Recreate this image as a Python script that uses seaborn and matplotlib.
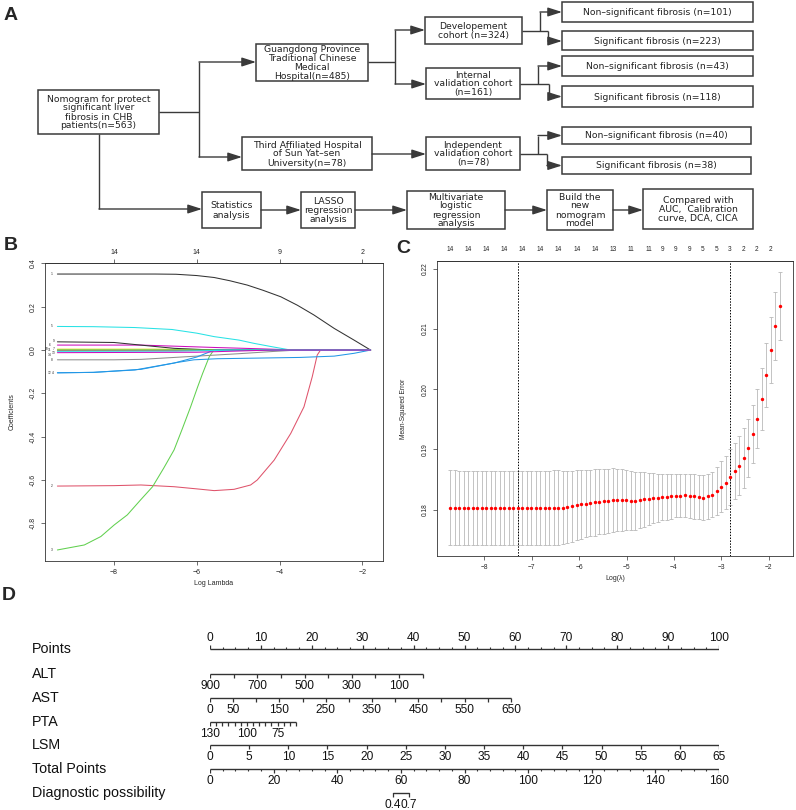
import numpy as np
import pandas as pd
import matplotlib
matplotlib.use("Agg")
import matplotlib.pyplot as plt
from matplotlib.patches import Rectangle
import seaborn as sns

# ====================== DATA ======================
# ---- Panel B : LASSO coefficient paths (knots) ----
b_var_ids = [1, 2, 3, 4, 5, 6, 7, 8, 9, 10, 11, 12, 13, 14]
b_colors = ["#333333", "#DF536B", "#61D04F", "#2297E6", "#28E2E5", "#CD0BBC", "#F5C710",
            "#8E8E8E", "#333333", "#DF536B", "#61D04F", "#2297E6", "#28E2E5", "#CD0BBC"]
b_path_x = {
    1: [-9.37, -8.0, -7.0, -6.5, -6.0, -5.58, -5.2, -4.78, -4.4, -3.97, -3.57, -3.17, -2.68, -2.2, -1.8],
    2: [-9.37, -8.0, -7.35, -6.55, -6.0, -5.58, -5.1, -4.70, -4.54, -4.13, -3.73, -3.41, -3.21, -3.09, -3.01, -1.8],
    3: [-9.37, -8.72, -8.32, -8.0, -7.68, -7.36, -7.07, -6.80, -6.55, -6.35, -6.15, -5.98, -5.86, -5.70, -5.62, -5.58, -1.8],
    4: [-9.37, -8.5, -7.5, -7.0, -6.5, -6.07, -5.5, -4.5, -3.5, -2.68, -2.2, -1.8],
    5: [-9.37, -8.5, -7.5, -6.6, -6.0, -5.58, -4.98, -4.62, -4.2, -3.73, -1.8],
    6: [-9.37, -7.35, -5.58, -4.5, -3.57, -1.8],
    7: [-9.37, -7.0, -5.5, -4.8, -1.8],
    8: [-9.37, -8.0, -7.35, -6.0, -5.0, -4.2, -3.57, -1.8],
    9: [-9.37, -8.0, -7.36, -6.55, -5.58, -1.8],
    10: [-9.37, -6.0, -4.5, -1.8],
    11: [-9.37, -6.0, -4.0, -2.6, -1.8],
    12: [-9.37, -8.5, -7.35, -6.55, -6.0, -5.58, -1.8],
    13: [-9.37, -6.5, -5.0, -1.8],
    14: [-9.37, -6.0, -4.2, -1.8],
}
b_path_y = {
    1: [0.351, 0.351, 0.351, 0.350, 0.344, 0.335, 0.320, 0.300, 0.276, 0.246, 0.207, 0.162, 0.100, 0.046, 0.0],
    2: [-0.628, -0.626, -0.623, -0.631, -0.641, -0.649, -0.643, -0.623, -0.600, -0.508, -0.385, -0.262, -0.123, -0.023, 0.0, 0.0],
    3: [-0.923, -0.900, -0.861, -0.808, -0.761, -0.692, -0.631, -0.545, -0.461, -0.363, -0.262, -0.170, -0.108, -0.031, -0.008, 0.0, 0.0],
    4: [-0.105, -0.103, -0.092, -0.075, -0.058, -0.045, -0.040, -0.037, -0.034, -0.028, -0.015, 0.0],
    5: [0.109, 0.108, 0.104, 0.095, 0.078, 0.062, 0.046, 0.031, 0.016, 0.0, 0.0],
    6: [0.023, 0.023, 0.012, 0.006, 0.0, 0.0],
    7: [0.004, 0.004, 0.002, 0.0, 0.0],
    8: [-0.045, -0.045, -0.043, -0.028, -0.017, -0.007, 0.0, 0.0],
    9: [0.038, 0.035, 0.023, 0.008, 0.0, 0.0],
    10: [-0.002, -0.002, 0.0, 0.0],
    11: [0.001, 0.001, 0.001, 0.0, 0.0],
    12: [-0.105, -0.103, -0.089, -0.060, -0.032, 0.0, 0.0],
    13: [-0.006, -0.005, 0.0, 0.0],
    14: [-0.012, -0.010, 0.0, 0.0],
}
b_x_ticks = [-8, -6, -4, -2]
b_y_ticks = [-0.8, -0.6, -0.4, -0.2, 0.0, 0.2, 0.4]
b_top_ticks = [-8, -6, -4, -2]
b_top_labels = ["14", "14", "9", "2"]

# ---- Panel C : cross-validation curve ----
cv_log_lambda = [-8.72, -8.62, -8.53, -8.43, -8.34, -8.24, -8.15, -8.05, -7.96, -7.86,
                 -7.77, -7.67, -7.58, -7.48, -7.39, -7.29, -7.20, -7.10, -7.01, -6.91,
                 -6.82, -6.72, -6.63, -6.53, -6.44, -6.34, -6.25, -6.15, -6.05, -5.96,
                 -5.86, -5.77, -5.67, -5.58, -5.48, -5.39, -5.29, -5.20, -5.10, -5.01,
                 -4.91, -4.82, -4.72, -4.63, -4.53, -4.44, -4.34, -4.25, -4.15, -4.06,
                 -3.96, -3.87, -3.77, -3.67, -3.58, -3.48, -3.39, -3.29, -3.20, -3.10,
                 -3.01, -2.91, -2.82, -2.72, -2.63, -2.53, -2.44, -2.34, -2.25, -2.15,
                 -2.06, -1.96, -1.87, -1.77]
cv_mse = [0.18031, 0.18031, 0.18030, 0.18030, 0.18030, 0.18030, 0.18029, 0.18029, 0.18029, 0.18029,
          0.18029, 0.18029, 0.18029, 0.18029, 0.18028, 0.18028, 0.18028, 0.18028, 0.18028, 0.18028,
          0.18029, 0.18029, 0.18030, 0.18031, 0.18032, 0.18035, 0.1805, 0.1806, 0.1808, 0.1809,
          0.1810, 0.1811, 0.1812, 0.1813, 0.1814, 0.1815, 0.18155, 0.1816, 0.1816, 0.18155,
          0.1815, 0.1815, 0.1816, 0.1817, 0.1818, 0.1819, 0.1820, 0.1821, 0.1821, 0.1822,
          0.1823, 0.1823, 0.1824, 0.1823, 0.1822, 0.1821, 0.1820, 0.1822, 0.1825, 0.1831,
          0.1838, 0.1845, 0.1854, 0.1864, 0.1873, 0.1886, 0.1903, 0.1925, 0.1951, 0.1984,
          0.2023, 0.2065, 0.2105, 0.2138]
cv_se = [0.0062, 0.0062, 0.0062, 0.0062, 0.0062, 0.0062, 0.0062, 0.0062, 0.0062, 0.0062,
         0.0062, 0.0062, 0.0062, 0.0062, 0.0062, 0.0062, 0.0062, 0.0062, 0.0062, 0.0062,
         0.0062, 0.0062, 0.0062, 0.0062, 0.0062, 0.0061, 0.0060, 0.0059, 0.0058, 0.0057,
         0.0056, 0.0055, 0.0055, 0.0054, 0.0054, 0.0053, 0.0053, 0.0052, 0.0051, 0.0050,
         0.0049, 0.0048, 0.0046, 0.0045, 0.0043, 0.0042, 0.0040, 0.0039, 0.0038, 0.0037,
         0.0036, 0.0036, 0.0036, 0.0037, 0.0037, 0.0037, 0.0037, 0.0037, 0.0038, 0.0040,
         0.0042, 0.0044, 0.0046, 0.0047, 0.0049, 0.0050, 0.0048, 0.0048, 0.0049, 0.0051,
         0.0053, 0.0055, 0.0056, 0.0056]
cv_top_idx = [0, 4, 8, 12, 16, 20, 24, 28, 32, 36, 40, 44, 47, 50, 53, 56, 59, 62, 65, 68, 71]
cv_top_nz = ["14", "14", "14", "14", "14", "14", "14", "14", "14", "13", "11", "11",
             "9", "9", "9", "5", "5", "3", "2", "2", "2"]
cv_lambda_min = -7.29
cv_lambda_1se = -2.82
c_x_ticks = [-8, -7, -6, -5, -4, -3, -2]
c_y_ticks = [0.18, 0.19, 0.20, 0.21, 0.22]

# ---- Panel D : nomogram scales ----
nomo_rows = ["Points", "ALT", "AST", "PTA", "LSM", "Total Points", "Diagnostic possibility"]
pts_major = [0, 10, 20, 30, 40, 50, 60, 70, 80, 90, 100]
pts_minor = [2.5, 5, 7.5, 12.5, 15, 17.5, 22.5, 25, 27.5, 32.5, 35, 37.5, 42.5, 45, 47.5,
             52.5, 55, 57.5, 62.5, 65, 67.5, 72.5, 75, 77.5, 82.5, 85, 87.5, 92.5, 95, 97.5]
alt_ends = [900, 0]
alt_pts = [0, 41.8]
alt_ticks = [900, 800, 700, 600, 500, 400, 300, 200, 100, 0]
alt_labels = [900, 700, 500, 300, 100]
ast_ends = [0, 650]
ast_pts = [0, 59.1]
ast_ticks = [0, 50, 100, 150, 200, 250, 300, 350, 400, 450, 500, 550, 600, 650]
ast_labels = [0, 50, 150, 250, 350, 450, 550, 650]
pta_ends = [130, 60]
pta_pts = [0, 16.9]
pta_ticks = [130, 125, 120, 115, 110, 105, 100, 95, 90, 85, 80, 75, 70, 65, 60]
pta_labels = [130, 100, 75]
lsm_ends = [0, 65]
lsm_pts = [0, 100]
lsm_ticks = [0, 5, 10, 15, 20, 25, 30, 35, 40, 45, 50, 55, 60, 65]
lsm_labels = [0, 5, 10, 15, 20, 25, 30, 35, 40, 45, 50, 55, 60, 65]
total_ends = [0, 160]
total_major = [0, 20, 40, 60, 80, 100, 120, 140, 160]
total_minor = [4, 8, 12, 16, 24, 28, 32, 36, 44, 48, 52, 56, 64, 68, 72, 76, 84, 88, 92, 96,
               104, 108, 112, 116, 124, 128, 132, 136, 144, 148, 152, 156]
diag_probs = [0.4, 0.7]
diag_total_points = [57.5, 62.6]

# ---- Panel A : flowchart texts ----
flow_texts = {
    "main": "Nomogram for protect\nsignificant liver\nfibrosis in CHB\npatients(n=563)",
    "gd": "Guangdong Province\nTraditional Chinese\nMedical\nHospital(n=485)",
    "third": "Third Affiliated Hospital\nof Sun Yat–sen\nUniversity(n=78)",
    "dev": "Developement\ncohort (n=324)",
    "internal": "Internal\nvalidation cohort\n(n=161)",
    "indep": "Independent\nvalidation cohort\n(n=78)",
    "ns101": "Non–significant fibrosis (n=101)",
    "s223": "Significant fibrosis (n=223)",
    "ns43": "Non–significant fibrosis (n=43)",
    "s118": "Significant fibrosis (n=118)",
    "ns40": "Non–significant fibrosis (n=40)",
    "s38": "Significant fibrosis (n=38)",
    "stats": "Statistics\nanalysis",
    "lasso": "LASSO\nregression\nanalysis",
    "multi": "Multivariate\nlogistic\nregression\nanalysis",
    "build": "Build the\nnew\nnomogram\nmodel",
    "comp": "Compared with\nAUC,  Calibration\ncurve, DCA, CICA",
}

# ====================== FIGURE ======================
W, H = 796, 810
sns.set_theme(style="white")
plt.rcParams["font.family"] = ["Liberation Sans", "DejaVu Sans"]
plt.rcParams["axes.unicode_minus"] = True
fig = plt.figure(figsize=(W / 100, H / 100), dpi=100)
fig.patch.set_facecolor("white")

# ---------- Panel A (layout axes in pixel units) ----------
ax_a = fig.add_axes([0, 0, 1, 1])
ax_a.set_xlim(0, W)
ax_a.set_ylim(H, 0)
ax_a.axis("off")
ax_a.patch.set_alpha(0)
EC = "#3a3a3a"
box_pos = {
    "main": (38, 90, 159, 134), "gd": (256, 44, 368, 81), "third": (242, 137, 372, 170),
    "dev": (425, 17, 522, 44), "internal": (426, 68, 520, 99), "indep": (426, 137, 520, 170),
    "ns101": (562, 2, 753, 22), "s223": (562, 31, 753, 50), "ns43": (562, 56, 753, 76),
    "s118": (562, 86, 753, 107), "ns40": (562, 127, 751, 144), "s38": (562, 157, 751, 174),
    "stats": (202, 192, 261, 228), "lasso": (301, 192, 355, 228), "multi": (407, 191, 505, 229),
    "build": (547, 190, 613, 230), "comp": (643, 189, 753, 229),
}
for k, (x0, y0, x1, y1) in box_pos.items():
    ax_a.add_patch(Rectangle((x0, y0), x1 - x0, y1 - y0, fill=False, ec=EC, lw=1.1))
    ax_a.text((x0 + x1) / 2, (y0 + y1) / 2 + 0.5, flow_texts[k], ha="center", va="center",
              fontsize=6.7, family="DejaVu Sans", color="#222222", linespacing=1.0)


def seg(xs, ys):
    ax_a.plot(xs, ys, color=EC, lw=1.0, solid_capstyle="butt")


def arr(x0, y, x1):
    ax_a.annotate("", xy=(x1, y), xytext=(x0, y),
                  arrowprops=dict(arrowstyle="-|>,head_length=1.0,head_width=0.32", color=EC,
                                  lw=1.0, shrinkA=0, shrinkB=0, mutation_scale=8.5))


seg([159, 199], [112, 112]); seg([199, 199], [62, 157])
arr(199, 62, 256); arr(199, 157, 242)
seg([99, 99], [134, 209]); arr(99, 209, 202)
seg([368, 395], [62, 62]); seg([395, 395], [30, 84])
arr(395, 30, 425); arr(395, 84, 426)
seg([522, 548], [30.5, 30.5]); seg([540, 540], [12, 30.5]); arr(540, 12, 562)
seg([548, 548], [30.5, 41]); arr(548, 41, 562)
seg([520, 549], [84, 84]); seg([538, 538], [66, 84]); arr(538, 66, 562)
seg([549, 549], [84, 96.5]); arr(549, 96.5, 562)
arr(372, 154, 426)
seg([520, 547], [154, 154]); seg([538, 538], [135.5, 154]); arr(538, 135.5, 562)
seg([547, 547], [154, 165.5]); arr(547, 165.5, 562)
arr(261, 210, 301); arr(355, 210, 407); arr(505, 210, 547); arr(613, 210, 643)

# ---------- Panel B ----------
ax_b = fig.add_axes([45 / W, 1 - 561 / H, 338 / W, 298 / H])
rows = []
for v in b_var_ids:
    for x, y in zip(b_path_x[v], b_path_y[v]):
        rows.append({"var": v, "loglambda": x, "coef": y})
df_b = pd.DataFrame(rows)
pal_b = {v: c for v, c in zip(b_var_ids, b_colors)}
sns.lineplot(data=df_b, x="loglambda", y="coef", hue="var", palette=pal_b, estimator=None,
             legend=False, lw=0.75, ax=ax_b)
# small variable-index labels at the left end of each path (staggered so they stay legible)
b_label_pos = {1: (-9.50, 0.351), 5: (-9.50, 0.109), 9: (-9.47, 0.040), 6: (-9.56, 0.022),
               7: (-9.47, 0.006), 10: (-9.63, 0.004), 11: (-9.56, -0.002), 13: (-9.47, -0.014),
               14: (-9.56, -0.022), 8: (-9.50, -0.045), 4: (-9.47, -0.105), 12: (-9.57, -0.105),
               2: (-9.50, -0.628), 3: (-9.50, -0.923)}
for v in b_var_ids:
    bx, by = b_label_pos[v]
    ax_b.text(bx, by, str(v), fontsize=2.3, ha="center", va="center", color="#222")
ax_b.set_xlim(-9.67, -1.50)
ax_b.set_ylim(-0.974, 0.402)
ax_b.set_xticks(b_x_ticks)
ax_b.set_yticks(b_y_ticks)
ax_b.set_yticklabels([f"{t:.1f}" for t in b_y_ticks], rotation=90, va="center")
ax_b.tick_params(axis="both", bottom=True, left=True, direction="out", length=3, width=0.5,
                 labelsize=5, pad=3, color="#333")
ax_b.set_xlabel("Log Lambda", fontsize=5)
ax_b.set_ylabel("Coefficients", fontsize=5)
ax_b.xaxis.set_label_coords(0.5, -0.077)
ax_b.xaxis.label.set_va("center")
ax_b.yaxis.set_label_coords(-0.098, 0.5)
ax_b.yaxis.label.set_va("center")
for s in ax_b.spines.values():
    s.set_color("#333"); s.set_linewidth(0.6)
sec_b = ax_b.secondary_xaxis("top")
sec_b.set_xticks(b_top_ticks)
sec_b.set_xticklabels(b_top_labels)
sec_b.tick_params(length=3, width=0.5, labelsize=5, pad=2, color="#333")
sec_b.spines["top"].set_linewidth(0.6)

# ---------- Panel C ----------
ax_c = fig.add_axes([437 / W, 1 - 556 / H, 356 / W, 295 / H])
ax_c.errorbar(cv_log_lambda, cv_mse, yerr=cv_se, fmt="none", ecolor="#b9b9b9",
              elinewidth=0.6, capsize=1.5, capthick=0.6, zorder=1)
sns.scatterplot(x=cv_log_lambda, y=cv_mse, color="red", s=6, linewidth=0, ax=ax_c, zorder=3)
for xv in [cv_lambda_min, cv_lambda_1se]:
    ax_c.axvline(xv, color="black", lw=0.7, ls=(0, (1.5, 1.5)), zorder=2)
ax_c.set_xlim(-9.0, -1.49)
ax_c.set_ylim(0.1723, 0.2213)
ax_c.set_xticks(c_x_ticks)
ax_c.set_yticks(c_y_ticks)
ax_c.set_yticklabels([f"{t:.2f}" for t in c_y_ticks], rotation=90, va="center")
ax_c.tick_params(axis="both", bottom=True, left=True, direction="out", length=3, width=0.5,
                 labelsize=4.8, pad=3, color="#333")
ax_c.set_xlabel("Log(λ)", fontsize=5)
ax_c.set_ylabel("Mean-Squared Error", fontsize=4.8)
ax_c.xaxis.set_label_coords(0.5, -0.0746)
ax_c.xaxis.label.set_va("center")
ax_c.yaxis.set_label_coords(-0.0955, 0.5)
ax_c.yaxis.label.set_va("center")
for s in ax_c.spines.values():
    s.set_color("#333"); s.set_linewidth(0.6)
sec_c = ax_c.secondary_xaxis("top")
sec_c.set_xticks([cv_log_lambda[i] for i in cv_top_idx])
sec_c.set_xticklabels(cv_top_nz)
sec_c.tick_params(length=0, labelsize=4.7, pad=6)
sec_c.spines["top"].set_linewidth(0.6)

# ---------- Panel D : nomogram ----------
ax_d = fig.add_axes([210 / W, 0, 509 / W, 1])
ax_d.set_xlim(0, 100)
ax_d.set_ylim(H, 0)
ax_d.axis("off")
ax_d.patch.set_alpha(0)
row_y = dict(zip(nomo_rows, [649, 674, 698, 722, 745, 769, 793]))
LC = "#333333"
TFS = 8.6


def to_pts(vals, ends, pts):
    vals = np.asarray(vals, dtype=float)
    return pts[0] + (vals - ends[0]) * (pts[1] - pts[0]) / (ends[1] - ends[0])


def scale(name, ends, pts, ticks, labels, minor=None, direction=1, major_len=4, lab_off=12):
    y = row_y[name]
    p_end = to_pts(ends, ends, pts)
    ax_d.plot(p_end, [y, y], color=LC, lw=1.0, solid_capstyle="butt")
    ax_d.vlines(to_pts(ticks, ends, pts), y, y + direction * major_len, color=LC, lw=0.9)
    if minor is not None:
        ax_d.vlines(to_pts(minor, ends, pts), y, y + direction * 2, color=LC, lw=0.8)
    for lab in labels:
        ax_d.text(float(to_pts([lab], ends, pts)[0]), y + direction * lab_off, str(lab),
                  ha="center", va="center", fontsize=TFS, color="#111")


scale("Points", [0, 100], [0, 100], pts_major, pts_major, minor=pts_minor, direction=-1, lab_off=11)
scale("ALT", alt_ends, alt_pts, alt_ticks, alt_labels)
scale("AST", ast_ends, ast_pts, ast_ticks, ast_labels)
scale("PTA", pta_ends, pta_pts, pta_ticks, pta_labels, major_len=3.5)
scale("LSM", lsm_ends, lsm_pts, lsm_ticks, lsm_labels)
scale("Total Points", total_ends, [0, 100], total_major, total_major, minor=total_minor)
# diagnostic possibility scale placed on the total-points axis
y_dp = row_y["Diagnostic possibility"]
dp_x = to_pts(diag_total_points, total_ends, [0, 100])
ax_d.plot(dp_x, [y_dp, y_dp], color=LC, lw=1.0)
ax_d.vlines(dp_x, y_dp, y_dp + 4, color=LC, lw=0.9)
for xv, pr in zip(dp_x, diag_probs):
    ax_d.text(xv, y_dp + 12, f"{pr:.1f}", ha="center", va="center", fontsize=TFS, color="#111")

for name in nomo_rows:
    fig.text(32 / W, 1 - row_y[name] / H, name, ha="left", va="center", fontsize=10.3, color="#111")

# ---------- panel letters ----------
for lab, (x, y) in {"A": (11, 15), "B": (10.5, 245.5), "C": (403, 248), "D": (9, 595)}.items():
    fig.text(x / W, 1 - y / H, lab, ha="center", va="center", fontsize=14, fontweight="bold")

fig.savefig("out.png", dpi=100, facecolor="white")
